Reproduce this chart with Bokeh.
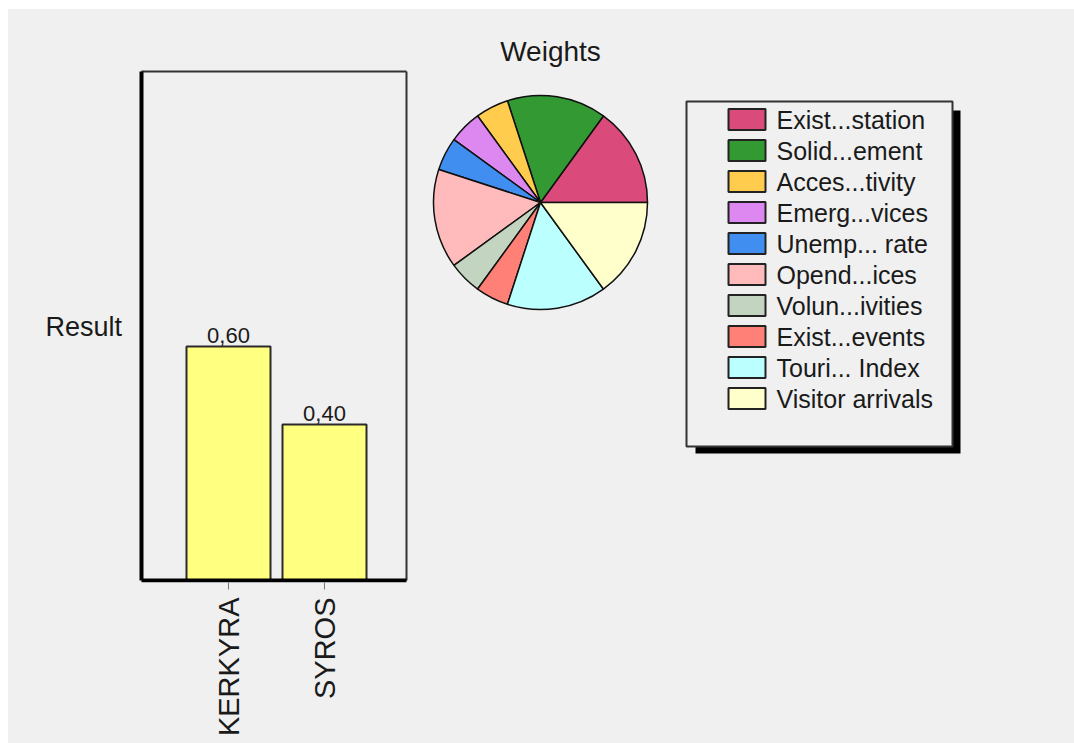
from math import pi
import numpy as np
from bokeh.plotting import figure
from bokeh.models import Range1d, FixedTicker
from bokeh.layouts import row
from bokeh.embed import file_html
from bokeh.resources import INLINE
from bokeh.core.properties import value

# ---------------- data ----------------
cities = ["KERKYRA", "SYROS"]
results = [0.60, 0.40]

criteria = ["Exist...station", "Solid...ement", "Acces...tivity", "Emerg...vices",
            "Unemp... rate", "Opend...ices", "Volun...ivities", "Exist...events",
            "Touri... Index", "Visitor arrivals"]
weights = [0.15, 0.15, 0.05, 0.05, 0.05, 0.15, 0.05, 0.05, 0.15, 0.15]
colors = ["#DA4B7C", "#339933", "#FFCC4D", "#DD88F0", "#3F8EF0",
          "#FFBBBB", "#C3D5C0", "#FF8077", "#BBFFFF", "#FFFFCC"]

BG = "#F0F0F0"
FONT = "Liberation Sans"
TXT = "#1a1a1a"

FRAME_BOTTOM = 582   # page px of the frames' bottom edge
BASE = 580           # page px of the bar baseline

# ---------------- bar chart (left figure) ----------------
UNIT_X = 96.0    # px per category step
UNIT_Y = 390.0   # px per 1.0 of result
left = figure(width=422, height=734,
              x_range=Range1d((8 - 228) / UNIT_X, (430 - 228) / UNIT_X),
              y_range=Range1d(-(FRAME_BOTTOM - BASE) / UNIT_Y, (BASE - 9) / UNIT_Y),
              y_axis_type=None,
              output_backend="svg", toolbar_location=None,
              min_border_left=0, min_border_right=0, min_border_top=0,
              min_border_bottom=743 - FRAME_BOTTOM,
              background_fill_color=BG, border_fill_color=BG, outline_line_color=None)
left.grid.visible = False
# page-pixel helper ranges for text placement
left.extra_x_ranges = {"px": Range1d(8, 430)}
left.extra_y_ranges = {"py": Range1d(FRAME_BOTTOM, 9)}

# bar-chart box
bx0, bx1, by1 = (141 - 228) / UNIT_X, (406 - 228) / UNIT_X, (BASE - 71) / UNIT_Y
left.segment(x0=[bx0, bx1], y0=[by1, by1], x1=[bx1, bx1], y1=[by1, 0],
             line_color="#333333", line_width=2)

xs = list(range(len(cities)))
left.vbar(x=xs, top=results, width=0.875, fill_color="#FFFF80",
          line_color="#2a2a2a", line_width=2)
left.segment(x0=[bx0, bx0], y0=[by1, 0], x1=[bx0, bx1], y1=[0, 0],
             line_color="black", line_width=4)
left.text(x=xs, y=results, text=[f"{v:.2f}".replace(".", ",") for v in results],
          y_offset=-4, text_align="center", text_baseline="bottom",
          text_font=value(FONT), text_font_size="22px", text_color=TXT)

left.text(x=[45], y=[326], text=["Result"], text_align="left", text_baseline="middle",
          text_font=value(FONT), text_font_size="27px", text_color=TXT,
          x_range_name="px", y_range_name="py")

xa = left.xaxis[0]
xa.ticker = FixedTicker(ticks=xs)
xa.major_label_overrides = {i: c for i, c in enumerate(cities)}
xa.major_label_orientation = pi / 2
xa.major_label_text_font = FONT
xa.major_label_text_font_size = "29px"
xa.major_label_text_color = TXT
xa.major_label_standoff = 8
xa.axis_line_color = None
xa.major_tick_in = 0
xa.major_tick_out = 7
xa.major_tick_line_color = "#777777"
xa.minor_tick_line_color = None

# ---------------- pie + legend (right figure) ----------------
R = 107.0
right = figure(width=644, height=734,
               x_range=Range1d((430 - 540) / R, (1074 - 540) / R),
               y_range=Range1d(-(FRAME_BOTTOM - 202) / R, (202 - 9) / R),
               x_axis_type=None, y_axis_type=None,
               output_backend="svg", toolbar_location=None,
               min_border_left=0, min_border_right=0, min_border_top=0,
               min_border_bottom=743 - FRAME_BOTTOM,
               background_fill_color=BG, border_fill_color=BG, outline_line_color=None)
right.grid.visible = False
right.extra_x_ranges = {"px": Range1d(430, 1074)}
right.extra_y_ranges = {"py": Range1d(FRAME_BOTTOM, 9)}

cum = np.cumsum([0.0] + weights)
right.wedge(x=0, y=0, radius=1, start_angle=cum[:-1] * 2 * pi, end_angle=cum[1:] * 2 * pi,
            fill_color=colors, line_color="#111111", line_width=1.5)

right.text(x=[550], y=[51], text=["Weights"], text_align="center", text_baseline="alphabetic",
           text_font=value(FONT), text_font_size="28px", text_color=TXT,
           x_range_name="px", y_range_name="py")

# legend (shadow, box, swatches, labels)
right.quad(left=[695], right=[960], top=[110], bottom=[453],
           fill_color="black", line_color=None, x_range_name="px", y_range_name="py")
right.quad(left=[686], right=[952], top=[101], bottom=[446],
           fill_color=BG, line_color="#333333", line_width=2, x_range_name="px", y_range_name="py")
row_y = [119 + 31 * i for i in range(len(criteria))]
right.quad(left=728, right=765, top=[y - 10.5 for y in row_y], bottom=[y + 10.5 for y in row_y],
           fill_color=colors, line_color="#222222", line_width=2,
           x_range_name="px", y_range_name="py")
right.text(x=776, y=row_y, text=criteria, text_align="left", text_baseline="middle",
           text_font=value(FONT), text_font_size="25px", text_color=TXT,
           x_range_name="px", y_range_name="py")

layout = row(left, right, margin=(9, 0, 0, 8), styles={"background-color": BG})

open("out.html", "w").write(file_html(layout, INLINE))
